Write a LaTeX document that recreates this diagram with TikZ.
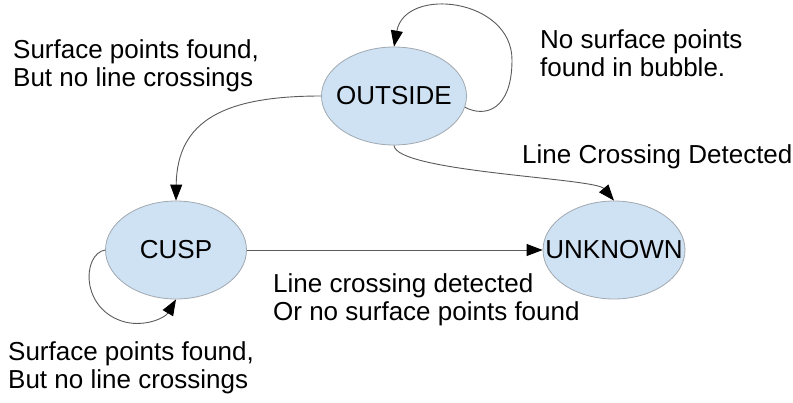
\documentclass[tikz,border=0pt]{standalone}
\usepackage{fontspec}
\setmainfont{Liberation Sans}
\usetikzlibrary{shapes.geometric,arrows.meta}
\definecolor{statefill}{HTML}{CFE2F3}
\definecolor{stateline}{HTML}{A0A8B0}
\definecolor{edgeline}{HTML}{5A5A5A}
\tikzset{
  statebox/.style={ellipse, draw=stateline, line width=0.8pt, fill=statefill,
    minimum width=#1, minimum height=98pt, inner sep=0pt},
  statetext/.style={font=\fontsize{26}{28}\selectfont, inner sep=0pt},
  edge/.style={draw=edgeline, line width=0.9pt,
    -{Triangle[length=16pt,width=12pt,fill=black,color=black]}},
  lbl/.style={anchor=base west, inner sep=0pt, align=left,
    font=\fontsize{26}{28}\selectfont}
}
\begin{document}
\begin{tikzpicture}[x=1pt,y=-1pt]
\useasboundingbox (0,0) rectangle (793,402);
\node[statebox=145pt] (out) at (394,96) {};
\node[statebox=141pt] (cusp) at (176,250) {};
\node[statebox=142pt] (unk) at (614,250) {};
\node[statetext] (outt) at (out.center) {OUTSIDE};
\node[statetext] (cuspt) at (cusp.center) {CUSP};
\node[statetext] (unkt) at (unk.center) {UNKNOWN};

\draw[edge] (out.-9) .. controls (485,118) and (512,110) .. (512,60)
  .. controls (512,-2) and (405,-14) .. (out.north);
\draw[edge] (out.west) .. controls (225,96) and (177,120) .. (cusp.north);
\draw[edge] (out.south) .. controls (396,172) and (595,178) .. (unk.north);
\draw[edge] (cusp.east) -- (unk.west);
\draw[edge] (cusp.west) .. controls (82,254) and (80,310) .. (125,322)
  .. controls (145,327) and (165,318) .. (cusp.south);

\node[lbl] (tl) at (13,86) {Surface points found,\\But no line crossings};
\node[lbl] (tr) at (540,76) {No surface points\\found in bubble.};
\node[lbl] (lcd) at (522,163) {Line Crossing Detected};
\node[lbl] (mid) at (273,320) {Line crossing detected\\Or no surface points found};
\node[lbl] (bl) at (8,388) {Surface points found,\\But no line crossings};
\end{tikzpicture}
\end{document}
